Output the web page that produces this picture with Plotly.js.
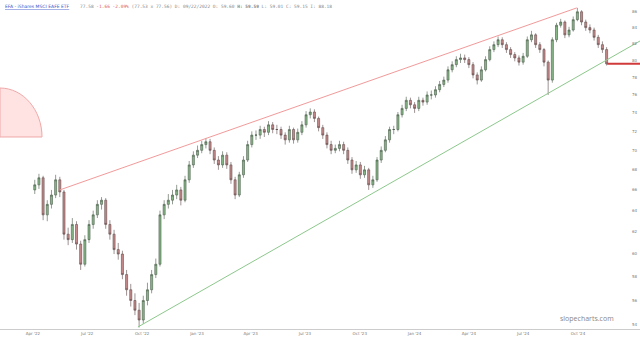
<!DOCTYPE html>
<html><head><meta charset="utf-8">
<script src="https://cdn.plot.ly/plotly-3.0.1.min.js"></script>
<style>html,body{margin:0;padding:0;background:#fff}#c{width:640px;height:341px}</style>
</head><body><div id="c"></div>
<script>
// weekly bars, week starting dates
const startWeek = "2022-04-04";
const nWeeks = 138;
const opens = [66.0,66.5,67.2,63.6,64.6,65.5,67.0,65.8,61.8,61.3, 62.7,60.9,59.1,61.3,62.7,63.6,64.6,65.0,62.7,61.8, 60.4,60.0,58.2,56.9,56.0,55.2,54.4,56.0,56.9,58.2, 59.1,63.6,64.6,65.0,65.5,66.0,65.0,67.0,68.5,69.5, 70.0,70.6,70.9,70.0,69.0,68.5,69.5,68.5,67.0,65.5, 67.5,69.0,70.6,71.6,71.6,72.2,71.9,72.7,72.2,72.2, 71.6,71.1,72.2,71.1,71.9,72.7,73.8,74.1,73.4,72.4, 71.6,70.6,70.0,70.2,70.6,70.0,69.0,68.0,68.5,67.5, 68.0,66.5,67.0,69.0,70.0,71.1,72.2,72.2,73.8,74.5, 75.4,74.9,74.5,75.4,75.2,76.0,76.0,76.6,77.2,77.7, 78.9,79.5,80.1,80.3,80.1,79.5,78.3,77.7,78.9,80.1, 81.3,81.9,82.5,81.9,81.3,80.7,80.3,79.8,80.5,82.5, 83.1,81.9,81.3,79.8,77.7,82.5,84.3,84.7,83.1,83.7, 85.0,86.0,84.7,84.0,83.7,82.8,81.9,81.3];
const highs = [67.0,67.6,67.4,65.0,66.0,67.5,67.3,66.0,62.4,63.3, 63.0,61.2,61.7,63.1,64.0,65.0,65.3,65.2,63.1,62.2, 61.0,60.3,58.6,57.4,56.6,55.8,56.4,57.5,58.6,59.6, 64.0,65.0,65.6,66.0,66.5,66.3,67.4,68.9,69.9,70.5, 71.0,71.3,71.2,70.3,69.4,69.9,69.8,68.8,67.3,67.8, 69.4,71.0,72.0,72.1,72.6,72.5,73.1,73.0,72.7,72.5, 71.9,72.6,72.4,72.3,73.1,74.2,74.5,74.4,73.6,72.7, 71.9,71.0,70.6,71.0,70.9,70.3,69.3,68.9,68.8,68.4, 68.2,67.4,69.3,70.4,71.5,72.5,72.6,74.1,74.9,75.8, 75.7,75.2,75.8,75.7,76.4,76.5,77.0,77.6,78.1,79.3, 79.9,80.5,80.8,80.7,80.4,79.8,78.6,79.3,80.5,81.7, 82.3,82.9,82.8,82.2,81.6,81.0,80.6,80.9,82.9,83.6, 83.3,82.2,81.5,80.0,82.8,84.6,85.1,84.9,84.1,85.4, 86.5,86.2,85.0,84.4,84.0,83.1,82.3,81.6];
const lows = [65.6,66.1,63.1,63.0,64.2,65.2,65.3,61.3,60.8,61.0, 60.4,58.6,58.9,61.0,62.3,63.3,64.1,62.3,61.3,60.0, 59.5,57.8,56.4,55.5,54.8,53.8,54.1,55.6,56.6,57.9, 58.9,63.2,64.2,64.6,65.1,64.5,64.8,66.7,68.2,69.2, 69.7,70.2,69.6,68.6,68.0,68.2,68.1,66.6,65.1,65.3, 67.2,68.8,70.3,71.1,71.2,71.4,71.6,71.8,71.7,71.2, 70.6,70.8,70.7,70.8,71.6,72.4,73.4,73.0,72.0,71.2, 70.2,69.6,69.7,69.9,69.6,68.6,67.6,67.7,67.1,67.2, 66.0,66.2,66.8,68.7,69.8,70.8,71.7,72.0,73.5,74.2, 74.5,74.0,74.2,74.8,74.9,75.5,75.7,76.3,76.9,77.4, 78.6,79.2,79.7,79.7,79.1,77.9,77.2,77.5,78.7,79.9, 81.0,81.6,81.5,80.9,80.3,79.9,79.4,79.5,80.3,82.2, 81.5,80.9,79.3,76.0,77.4,82.2,84.0,82.7,82.8,83.5, 84.8,84.3,83.6,83.3,82.4,81.5,80.9,79.4];
const closes = [66.5,67.2,63.6,64.6,65.5,67.0,65.8,61.8,61.3,62.7, 60.9,59.1,61.3,62.7,63.6,64.6,65.0,62.7,61.8,60.4, 60.0,58.2,56.9,56.0,55.2,54.4,56.0,56.9,58.2,59.1, 63.6,64.6,65.0,65.5,66.0,65.0,67.0,68.5,69.5,70.0, 70.6,70.9,70.0,69.0,68.5,69.5,68.5,67.0,65.5,67.5, 69.0,70.6,71.6,71.6,72.2,71.9,72.7,72.2,72.2,71.6, 71.1,72.2,71.1,71.9,72.7,73.8,74.1,73.4,72.4,71.6, 70.6,70.0,70.2,70.6,70.0,69.0,68.0,68.5,67.5,68.0, 66.5,67.0,69.0,70.0,71.1,72.2,72.2,73.8,74.5,75.4, 74.9,74.5,75.4,75.2,76.0,76.0,76.6,77.2,77.7,78.9, 79.5,80.1,80.3,80.1,79.5,78.3,77.7,78.9,80.1,81.3, 81.9,82.5,81.9,81.3,80.7,80.3,79.8,80.5,82.5,83.1, 81.9,81.3,79.8,77.7,82.5,84.3,84.7,83.1,83.7,85.0, 86.0,84.7,84.0,83.7,82.8,81.9,81.3,79.6];

// trend lines
const resistDates = ["2022-05-16", "2024-09-29"];
const resistVals = [66.0, 86.5];
const supportDates = ["2022-09-24", "2025-01-13"];
const supportVals = [53.84, 82.35];
const lastDates = ["2024-11-19", "2025-01-13"];
const lastVals = [79.6, 79.6];

// ticks
const xTickVals = ["2022-04-01","2022-07-01","2022-10-01","2023-01-01","2023-04-01","2023-07-01","2023-10-01","2024-01-01","2024-04-01","2024-07-01","2024-10-01"];
const xTickText = ["Apr '22","Jul '22","Oct '22","Jan '23","Apr '23","Jul '23","Oct '23","Jan '24","Apr '24","Jul '24","Oct '24"];
const yTickVals = [54,56,58,60,62,64,66,68,70,72,74,76,78,80,82,84,86];
const yTickText = yTickVals.map(String);

const dates = [];
{
  const d0 = new Date(startWeek + "T00:00:00Z");
  for (let i = 0; i < nWeeks; i++) {
    const d = new Date(d0.getTime() + i * 7 * 86400000);
    dates.push(d.toISOString().slice(0, 10));
  }
}

const traces = [
  {type:'scatter', mode:'lines', x:resistDates, y:resistVals, line:{color:'#f29a9a', width:1}, hoverinfo:'skip'},
  {type:'scatter', mode:'lines', x:supportDates, y:supportVals, line:{color:'#8cc88c', width:1}, hoverinfo:'skip'},
  {type:'candlestick', x:dates, open:opens, high:highs, low:lows, close:closes,
   increasing:{line:{color:'#4a5a4a', width:0.6}, fillcolor:'#86b886'},
   decreasing:{line:{color:'#5e4a4a', width:0.6}, fillcolor:'#c88a8a'},
   whiskerwidth:0},
  {type:'scatter', mode:'lines', x:lastDates, y:lastVals, line:{color:'#d03a3a', width:2}, hoverinfo:'skip'}
];

const layout = {
  width:640, height:341,
  margin:{l:0, r:0, t:0, b:12},
  paper_bgcolor:'#ffffff', plot_bgcolor:'#ffffff',
  showlegend:false,
  xaxis:{type:'date', range:['2022-02-04 17:00','2025-01-13'], tickvals:xTickVals, ticktext:xTickText,
         showgrid:false, zeroline:false, showline:true, linecolor:'#cccccc', linewidth:1,
         ticks:'', tickfont:{family:'DejaVu Sans', size:4, color:'#777'}, rangeslider:{visible:false}, fixedrange:true},
  yaxis:{type:'log', range:[1.7298, 1.9421], side:'right', ticklabelposition:'inside',
         tickvals:yTickVals, ticktext:yTickText, showgrid:false, zeroline:false, showline:false, ticks:'',
         tickfont:{family:'DejaVu Sans', size:4, color:'#777'}, fixedrange:true},
  shapes:[{type:'path', xref:'paper', yref:'paper', layer:'below',
           path:'M 0,0.7325 C 0.03625,0.7325 0.065625,0.6659 0.065625,0.5836 L 0,0.5836 Z',
           fillcolor:'#ffe3e3', line:{color:'#f0a8a8', width:1}}],
  annotations:[
    {xref:'paper', yref:'paper', x:0.004, y:1, xanchor:'left', yanchor:'top', showarrow:false,
     yshift:-2,
     text:'<span style="color:#3a55c8;text-decoration:underline;font-family:DejaVu Sans">EFA - iShares MSCI EAFE ETF</span>    77.58 <span style="color:#e06060">-1.66 -2.09%</span> (77.53 x 77.56) D: 09/22/2022 O: 59.60 <b>H: 59.59</b> L: 59.01 C: 59.15 I: 88.18',
     font:{family:'DejaVu Sans Mono', size:4.5, color:'#888'}},
    {xref:'paper', yref:'paper', x:0.9625, y:0.0334, xanchor:'right', yanchor:'middle', showarrow:false,
     text:'slopecharts.com', font:{family:'Open Sans', size:7, color:'#888'}}
  ]
};

Plotly.newPlot('c', traces, layout, {staticPlot:true, displayModeBar:false});
</script>
</body></html>
